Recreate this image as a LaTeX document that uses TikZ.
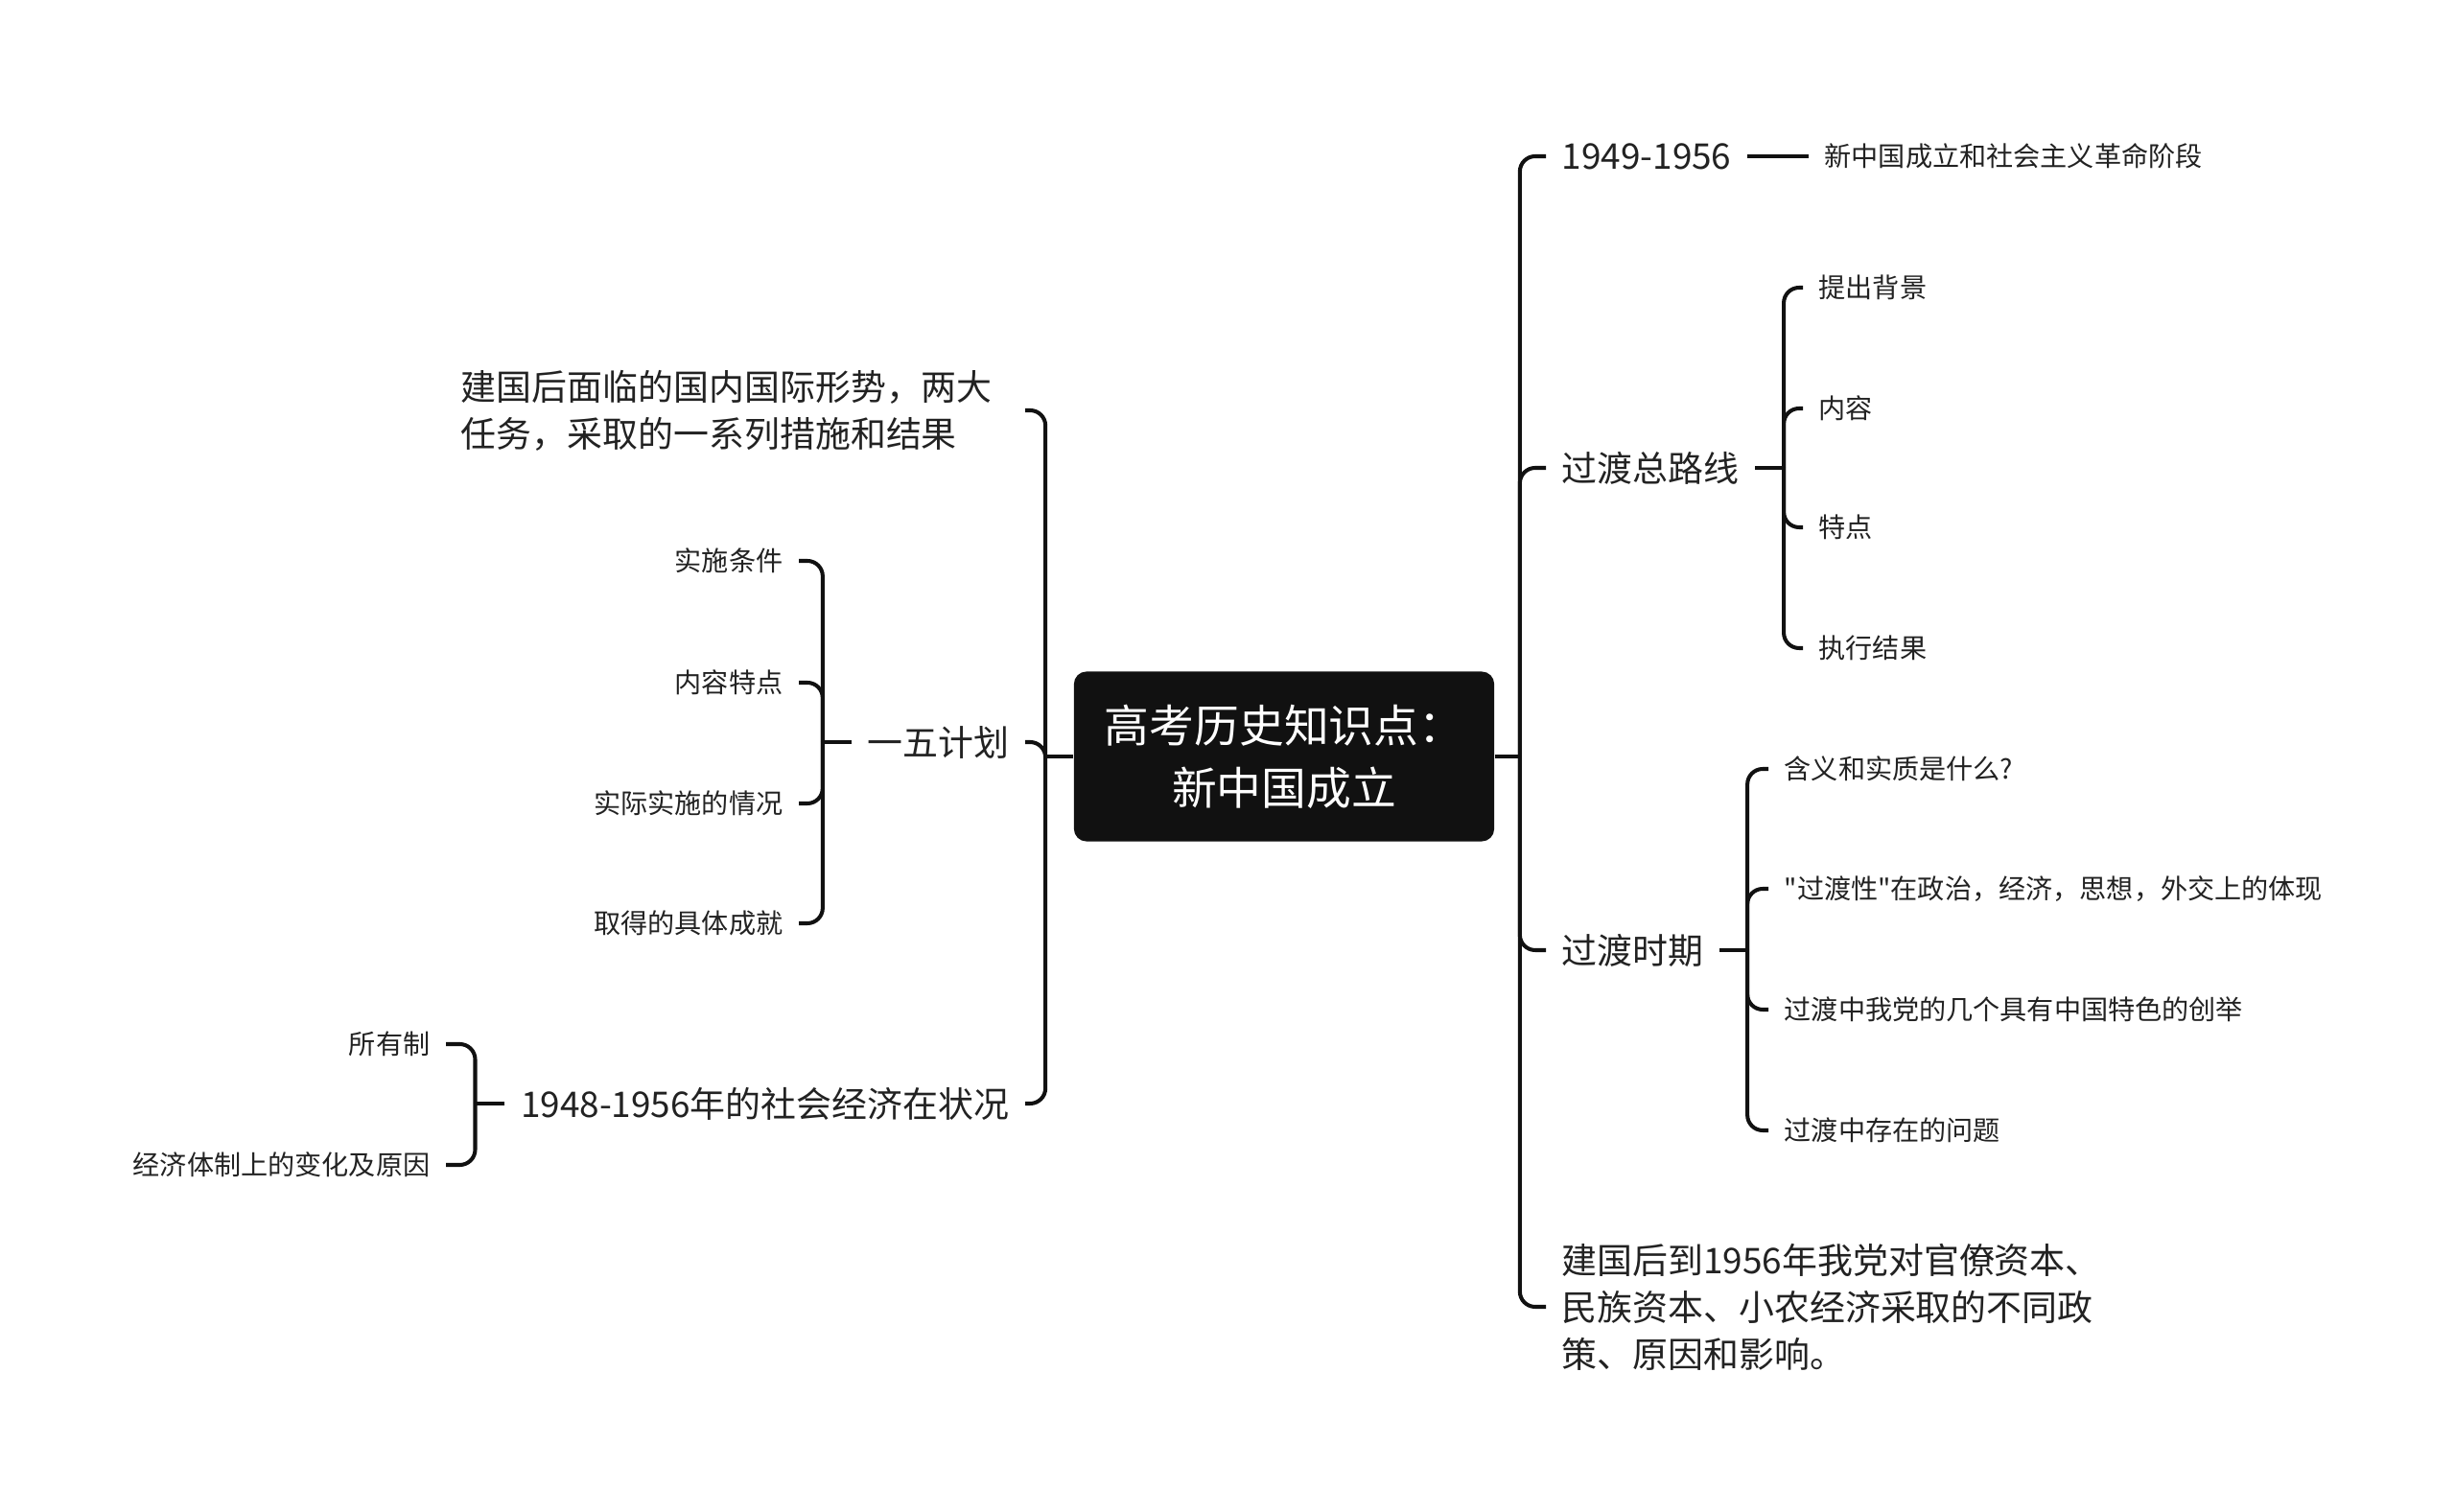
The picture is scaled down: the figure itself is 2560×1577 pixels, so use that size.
\documentclass[tikz,border=0pt]{standalone}
\usepackage{fontspec}
\setmainfont{Noto Sans CJK SC}[Ligatures=TeXOff]
\definecolor{rootFill}{HTML}{111111}
\definecolor{inkGray}{HTML}{222222}
\usepackage{tikz}

\begin{document}
\begin{tikzpicture}[x=0.01cm, y=-0.01cm,
    every node/.style={text=inkGray, inner xsep=0.16cm, inner ysep=0.05cm},
    topic/.style={fill=rootFill, text=white, rounded corners=0.13cm, minimum width=4.38cm,
      minimum height=1.77cm, align=center, font=\fontsize{13.3pt}{18.5pt}\selectfont},
    big/.style={font=\fontsize{10.5pt}{13.9pt}\selectfont},
    small/.style={font=\fontsize{8pt}{10pt}\selectfont},
    branch/.style={draw=rootFill, line width=1.15pt, rounded corners=0.16cm}]
        \useasboundingbox (0,0) rectangle (2560,1577);
        \node[topic] (root) at (1339,789) {高考历史知识点：\\新中国成立};
        % right side
        \node[big, anchor=west] (stage) at (1612,163) {1949-1956};
        \node[small, anchor=west] (stageNote) at (1886,163) {新中国成立和社会主义革命阶段};
        \node[big, anchor=west] (line) at (1612,488) {过渡总路线};
        \node[small, anchor=west] (lineA) at (1880,300) {提出背景};
        \node[small, anchor=west] (lineB) at (1880,426) {内容};
        \node[small, anchor=west] (lineC) at (1880,550) {特点};
        \node[small, anchor=west] (lineD) at (1880,676) {执行结果};
        \node[big, anchor=west] (period) at (1612,991) {过渡时期};
        \node[small, anchor=west] (periodA) at (1844,802) {含义和实质是什么?};
        \node[small, anchor=west] (periodB) at (1844,927) {"过渡性"在政治，经济，思想，外交上的体现};
        \node[small, anchor=west] (periodC) at (1844,1053) {过渡中我党的几个具有中国特色的创举};
        \node[small, anchor=west] (periodD) at (1844,1179) {过渡中存在的问题};
        \node[big, anchor=west, align=left] (policy) at (1612,1363)
          {建国后到1956年我党对官僚资本、\\民族资本、小农经济采取的不同政\\策、原因和影响。};
        % left side
        \node[big, anchor=east, align=left, text width=5.71cm] (situation) at (1069,428)
          {建国后面临的国内国际形势，两大\\任务，采取的一系列措施和结果};
        \node[big, anchor=east] (plan) at (1069,774) {一五计划};
        \node[small, anchor=east] (planA) at (833,585) {实施条件};
        \node[small, anchor=east] (planB) at (833,712) {内容特点};
        \node[small, anchor=east] (planC) at (833,838) {实际实施的情况};
        \node[small, anchor=east] (planD) at (833,963) {取得的具体成就};
        \node[big, anchor=east] (economy) at (1069,1151) {1948-1956年的社会经济在状况};
        \node[small, anchor=east] (economyA) at (465,1089) {所有制};
        \node[small, anchor=east] (economyB) at (465,1215) {经济体制上的变化及原因};
        % connectors
        \draw[branch] (root.east) -- ++(26,0) coordinate (rightJoint);
        \foreach \n in {stage,line,period,policy}
          \draw[branch] (rightJoint) |- (\n.west);
        \draw[branch] (stage.east) -- (stageNote.west);
        \draw[branch] (line.east) -- ++(30,0) coordinate (lineJoint);
        \foreach \n in {lineA,lineB,lineC,lineD}
          \draw[branch] (lineJoint) |- (\n.west);
        \draw[branch] (period.east) -- ++(29,0) coordinate (periodJoint);
        \foreach \n in {periodA,periodB,periodC,periodD}
          \draw[branch] (periodJoint) |- (\n.west);
        \draw[branch] (root.west) -- ++(-29,0) coordinate (leftJoint);
        \foreach \n in {situation,plan,economy}
          \draw[branch] (leftJoint) |- (\n.east);
        \draw[branch] (plan.west) -- ++(-30,0) coordinate (planJoint);
        \foreach \n in {planA,planB,planC,planD}
          \draw[branch] (planJoint) |- (\n.east);
        \draw[branch] (economy.west) -- ++(-31,0) coordinate (economyJoint);
        \foreach \n in {economyA,economyB}
          \draw[branch] (economyJoint) |- (\n.east);
      \end{tikzpicture}
\end{document}
